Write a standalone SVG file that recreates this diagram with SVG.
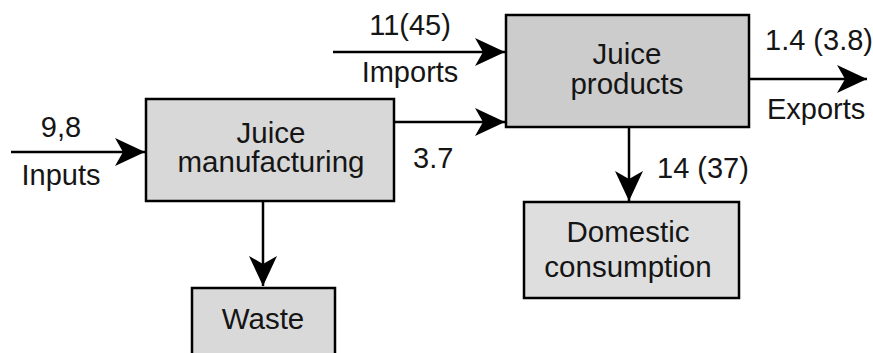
<svg xmlns="http://www.w3.org/2000/svg" width="873" height="353" viewBox="0 0 873 353">
<style>
  text { font-family: "Liberation Sans", Arial, sans-serif; font-size: 29px; fill: #151515; }
  .n { font-size: 29.5px; }
  .c { text-anchor: middle; }
  .box { stroke: #000; stroke-width: 2.5; }
  .edge { stroke: #000; stroke-width: 2.5; fill: none; marker-end: url(#ah); }
</style>
<defs>
  <marker id="ah" markerUnits="userSpaceOnUse" markerWidth="31" markerHeight="30" refX="30" refY="14" orient="auto" overflow="visible">
    <path d="M0,0 L30,14 L0,28 L8,14 Z" fill="#000"/>
  </marker>
</defs>
<rect width="873" height="353" fill="#fff"/>
<g id="manufacturing">
  <rect class="box" x="146" y="99" width="248" height="102" fill="#d8d8d8"/>
  <text class="c n" x="271" y="143">Juice</text>
  <text class="c n" x="271" y="172">manufacturing</text>
</g>
<g id="products">
  <rect class="box" x="506" y="15" width="243" height="112" fill="#cccccc"/>
  <text class="c n" x="627" y="64">Juice</text>
  <text class="c n" x="627" y="94">products</text>
</g>
<g id="domestic">
  <rect class="box" x="524" y="202" width="215" height="96" fill="#dedede"/>
  <text class="c n" x="628" y="242">Domestic</text>
  <text class="c n" x="628" y="277">consumption</text>
</g>
<g id="waste">
  <rect class="box" x="192" y="288" width="143" height="80" fill="#d9d9d9"/>
  <text class="c n" x="263" y="329">Waste</text>
</g>
<g id="connectors">
  <line class="edge" x1="11" y1="152" x2="145" y2="152"/>
  <line class="edge" x1="333" y1="52" x2="505" y2="52"/>
  <line class="edge" x1="394" y1="122" x2="505" y2="122"/>
  <line class="edge" x1="749" y1="79" x2="867" y2="79"/>
  <line class="edge" x1="263" y1="201" x2="263" y2="286"/>
  <line class="edge" x1="629" y1="127" x2="629" y2="201"/>
  <text class="c" x="61" y="137">9,8</text>
  <text class="c" x="61" y="185">Inputs</text>
  <text class="c" x="410" y="35">11(45)</text>
  <text class="c" x="410" y="82">Imports</text>
  <text x="413" y="168">3.7</text>
  <text x="765" y="50">1.4 (3.8)</text>
  <text x="767" y="119">Exports</text>
  <text x="657" y="178">14 (37)</text>
</g>
</svg>
